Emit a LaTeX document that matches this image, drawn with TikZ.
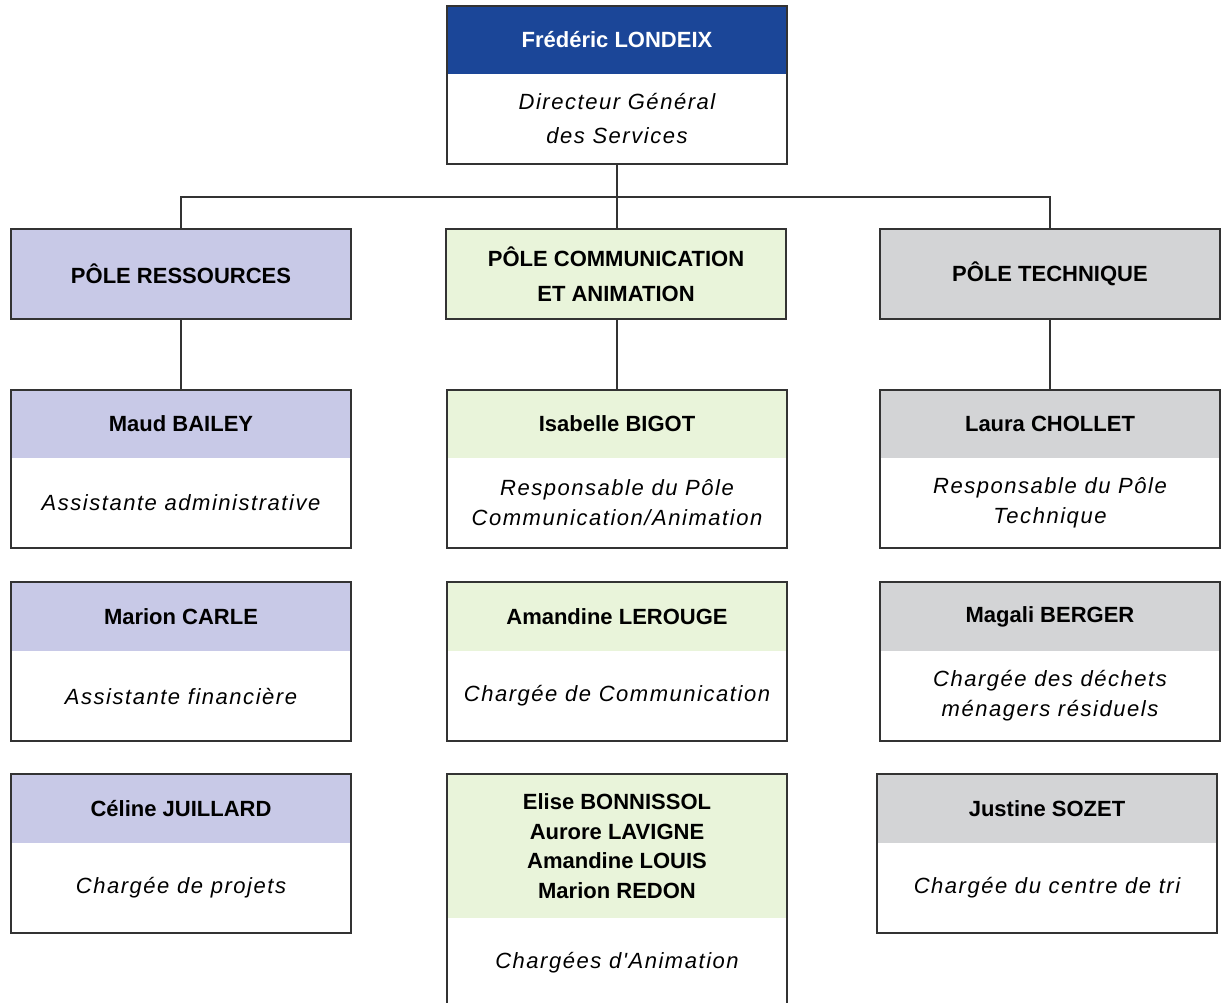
\documentclass[tikz,border=0pt]{standalone}
\usepackage{fontspec}
\setmainfont{Liberation Sans}
\newfontfamily\itfont[LetterSpace=7]{Liberation Sans Italic}
\definecolor{dgblue}{HTML}{1B4698}
\definecolor{lav}{HTML}{C8C9E7}
\definecolor{lgreen}{HTML}{E9F4DA}
\definecolor{lgray}{HTML}{D3D4D6}
\definecolor{edge}{HTML}{333333}
\tikzset{
  hdrtxt/.style={align=center,inner sep=0pt,font=\fontsize{22}{29.5}\selectfont\bfseries},
  bodytxt/.style={align=center,inner sep=0pt,font=\fontsize{22}{30}\selectfont\itfont},
  boxline/.style={draw=edge,line width=1.3pt},
  polebox/.style={boxline,hdrtxt,outer sep=0pt,minimum width=340pt,minimum height=90pt,anchor=north west},
  link/.style={draw=edge,line width=1.3pt}
}
% #1 name, #2 x1, #3 x2, #4 ytop, #5 yhead, #6 ybot, #7 colour, #8 header, #9 body
\newcommand\pbox[9]{%
  \path[fill=#7] (#2,#4) rectangle (#3,#5);
  \node[hdrtxt] (#1h) at ({(#2+#3)/2},{(#4+#5)/2}) {#8};
  \node[bodytxt] (#1b) at ({(#2+#3)/2},{(#5+#6)/2}) {#9};
  \draw[boxline] (#2,#4) rectangle (#3,#6);
  \coordinate (#1) at ({(#2+#3)/2},#4);
}
\begin{document}
\begin{tikzpicture}[x=1pt,y=-1pt]
\clip (0,0) rectangle (1221,1002);
\fill[white] (0,0) rectangle (1221,1002);
% Director
\path[fill=dgblue] (447,6) rectangle (787,74);
\node[hdrtxt,text=white] (dgh) at (617,40) {Frédéric LONDEIX};
\node[bodytxt,font=\fontsize{22}{34}\selectfont\itfont] (dgb) at (617,119) {Directeur Général\\des Services};
\draw[boxline] (447,6) rectangle (787,164);
\coordinate (dg) at (617,164);
% Poles
\node[polebox,fill=lav] (pr) at (11,229) {PÔLE RESSOURCES};
\node[polebox,fill=lgreen,font=\fontsize{22}{35}\selectfont\bfseries] (pc) at (446,229) {PÔLE COMMUNICATION\\ET ANIMATION};
\node[polebox,fill=lgray] (pt) at (880,229) {PÔLE TECHNIQUE};
\coordinate (j) at (617,197);
\draw[link] (dg) -- (j);
\draw[link] (j) -| (pr.north);
\draw[link] (j) -| (pt.north);
\draw[link] (j) -- (j |- pc.north);
% Row 1
\pbox{mb}{11}{351}{390}{458}{548}{lav}{Maud BAILEY}{Assistante administrative}
\pbox{ib}{447}{787}{390}{458}{548}{lgreen}{Isabelle BIGOT}{Responsable du Pôle\\Communication/Animation}
\pbox{lc}{880}{1220}{390}{458}{548}{lgray}{Laura CHOLLET}{Responsable du Pôle\\Technique}
\draw[link] (pr.south) -- (pr.south |- mb);
\draw[link] (ib |- pc.south) -- (ib);
\draw[link] (pt.south) -- (pt.south |- lc);
% Row 2
\pbox{mc}{11}{351}{582}{651}{741}{lav}{Marion CARLE}{Assistante financière}
\pbox{al}{447}{787}{582}{651}{741}{lgreen}{Amandine LEROUGE}{Chargée de Communication}
\pbox{bg}{880}{1220}{582}{651}{741}{lgray}{Magali BERGER}{Chargée des déchets\\ménagers résiduels}
% Row 3
\pbox{cj}{11}{351}{774}{843}{933}{lav}{Céline JUILLARD}{Chargée de projets}
\pbox{an}{447}{787}{774}{918}{1008}{lgreen}{Elise BONNISSOL\\Aurore LAVIGNE\\Amandine LOUIS\\Marion REDON}{Chargées d'Animation}
\pbox{js}{877}{1217}{774}{843}{933}{lgray}{Justine SOZET}{Chargée du centre de tri}
\end{tikzpicture}
\end{document}
